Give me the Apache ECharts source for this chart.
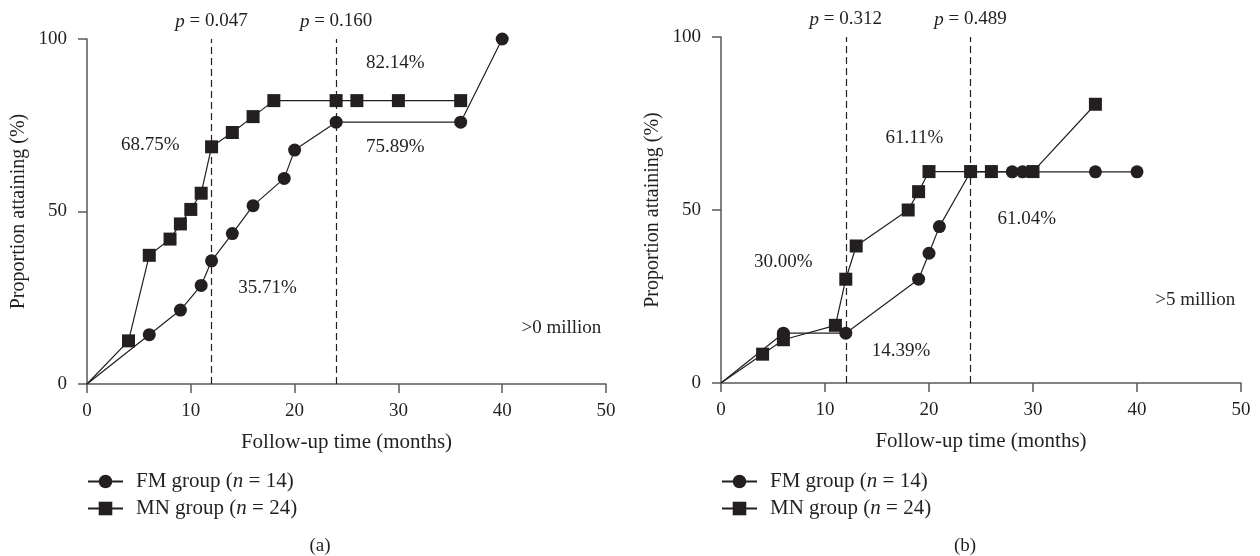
<!DOCTYPE html>
<html>
<head>
<meta charset="utf-8">
<script src="https://cdn.jsdelivr.net/npm/echarts@6/dist/echarts.min.js"></script>
<style>
  html, body { margin: 0; padding: 0; background: #fff; }
  #chart { width: 1260px; height: 556px; }
</style>
</head>
<body>
<div id="chart"></div>
<script>
  // panel (a) >0 million
  const fmMonthsA = [0, 6, 9, 11, 12, 14, 16, 19, 20, 24, 36, 40]
  const fmValuesA = [0, 14.29, 21.43, 28.57, 35.71, 43.6, 51.7, 59.6, 67.8, 75.89, 75.89, 100]
  const mnMonthsA = [0, 4, 6, 8, 9, 10, 11, 12, 14, 16, 18, 24, 26, 30, 36]
  const mnValuesA = [0, 12.5, 37.3, 42.0, 46.4, 50.6, 55.3, 68.75, 72.9, 77.5, 82.14, 82.14, 82.14, 82.14, 82.14]

  // panel (b) >5 million
  const fmMonthsB = [0, 6, 12, 19, 20, 21, 24, 28, 29, 36, 40]
  const fmValuesB = [0, 14.39, 14.39, 30, 37.5, 45.2, 61.04, 61.04, 61.04, 61.04, 61.04]
  const mnMonthsB = [0, 4, 6, 11, 12, 13, 18, 19, 20, 24, 26, 30, 36]
  const mnValuesB = [0, 8.33, 12.5, 16.67, 30, 39.6, 50, 55.3, 61.11, 61.11, 61.11, 61.11, 80.56]

  const groupNames = ['FM group (n = 14)', 'MN group (n = 24)']
  const cutMonths = [12, 24]
  const pValuesA = ['0.047', '0.160']
  const pValuesB = ['0.312', '0.489']

  const notesA = ['68.75%', '35.71%', '82.14%', '75.89%', '>0 million']
  const notesB = ['30.00%', '61.11%', '14.39%', '61.04%', '>5 million']
  // where the notes sit, in (months, %) of each panel
  const notePosA = [[6.1, 69.3], [17.4, 27.8], [29.7, 93], [29.7, 68.7], [45.7, 16.2]]
  const notePosB = [[6.0, 35.0], [18.6, 70.8], [17.3, 9.2], [29.4, 47.4], [45.6, 24.0]]

  const ink = '#231f20'
  const axisGray = '#58595b'
  const font = "'Liberation Serif', 'DejaVu Serif', serif"
  const fs = 19

  function pts (xs, ys) {
    return xs.map((x, i) => i === 0 ? { value: [x, ys[i]], symbol: 'none' } : [x, ys[i]])
  }

  function xAxisFor (idx) {
    return {
      gridIndex: idx,
      type: 'value',
      min: 0,
      max: 50,
      interval: 10,
      name: 'Follow-up time (months)',
      nameLocation: 'middle',
      nameGap: 48,
      nameTextStyle: { fontFamily: font, fontSize: 21, color: ink },
      axisLine: { show: true, lineStyle: { color: axisGray, width: 1.5 } },
      axisTick: { show: true, length: 9, lineStyle: { color: axisGray, width: 1.5 } },
      axisLabel: { margin: 18, fontFamily: font, fontSize: fs, color: ink },
      splitLine: { show: false }
    }
  }

  function yAxisFor (idx) {
    return {
      gridIndex: idx,
      type: 'value',
      min: 0,
      max: 100,
      interval: 50,
      name: 'Proportion attaining (%)',
      nameLocation: 'middle',
      nameGap: 58,
      nameTextStyle: { fontFamily: font, fontSize: 20, color: ink },
      axisLine: { show: true, lineStyle: { color: axisGray, width: 1.5 } },
      axisTick: { show: true, length: 9, lineStyle: { color: axisGray, width: 1.5 } },
      axisLabel: { margin: 20, fontFamily: font, fontSize: fs, color: ink },
      splitLine: { show: false }
    }
  }

  function cutLines (pValues) {
    return {
      silent: true,
      symbol: 'none',
      animation: false,
      lineStyle: { type: [7, 4], color: ink, width: 1.2 },
      label: {
        show: true,
        position: 'end',
        distance: 8,
        fontFamily: font,
        fontSize: fs,
        color: ink,
        rich: { i: { fontFamily: font, fontSize: fs, fontStyle: 'italic', color: ink } }
      },
      data: cutMonths.map((m, i) => ({ xAxis: m, label: { formatter: '{i|p} = ' + pValues[i] } }))
    }
  }

  function lineSeries (name, idx, data, symbol, markLine) {
    let s = {
      name: name,
      type: 'line',
      xAxisIndex: idx,
      yAxisIndex: idx,
      data: data,
      symbol: symbol,
      symbolSize: 13,
      lineStyle: { color: ink, width: 1.2 },
      itemStyle: { color: ink },
      emphasis: { disabled: true },
      animation: false
    }
    if (markLine) s.markLine = markLine
    return s
  }

  function legendFor (left) {
    return {
      left: left,
      top: 471,
      padding: 0,
      orient: 'vertical',
      itemWidth: 35,
      itemHeight: 17,
      itemGap: 6,
      selectedMode: false,
      data: groupNames,
      formatter: name => name.replace('(n', '({i|n}'),
      textStyle: {
        fontFamily: font,
        fontSize: 21,
        color: ink,
        padding: [0, 0, 0, 8],
        rich: { i: { fontFamily: font, fontSize: 21, fontStyle: 'italic', color: ink } }
      }
    }
  }

  let myChart = echarts.init(document.getElementById('chart'))
  let option = {
    backgroundColor: '#fff',
    animation: false,
    grid: [
      { left: 87, top: 39, width: 519, height: 345 },
      { left: 721, top: 37, width: 520, height: 346 }
    ],
    xAxis: [xAxisFor(0), xAxisFor(1)],
    yAxis: [yAxisFor(0), yAxisFor(1)],
    legend: [legendFor(87), legendFor(721)],
    series: [
      lineSeries(groupNames[0], 0, pts(fmMonthsA, fmValuesA), 'circle', cutLines(pValuesA)),
      lineSeries(groupNames[1], 0, pts(mnMonthsA, mnValuesA), 'rect'),
      lineSeries(groupNames[0], 1, pts(fmMonthsB, fmValuesB), 'circle', cutLines(pValuesB)),
      lineSeries(groupNames[1], 1, pts(mnMonthsB, mnValuesB), 'rect')
    ]
  }
  myChart.setOption(option)

  // free text notes placed through each grid's scales
  let graphics = []
  const panels = [[notesA, notePosA], [notesB, notePosB]]
  panels.forEach((p, g) => {
    p[0].forEach((txt, i) => {
      let xy = myChart.convertToPixel({ gridIndex: g }, p[1][i])
      graphics.push({
        type: 'text',
        x: xy[0],
        y: xy[1],
        style: { text: txt, fontFamily: font, fontSize: fs, fill: ink, align: 'center', verticalAlign: 'middle' }
      })
    })
  })
  graphics.push({ type: 'text', x: 320, y: 546, style: { text: '(a)', fontFamily: font, fontSize: fs, fill: ink, align: 'center', verticalAlign: 'middle' } })
  graphics.push({ type: 'text', x: 965, y: 546, style: { text: '(b)', fontFamily: font, fontSize: fs, fill: ink, align: 'center', verticalAlign: 'middle' } })
  myChart.setOption({ graphic: graphics })
</script>
</body>
</html>
